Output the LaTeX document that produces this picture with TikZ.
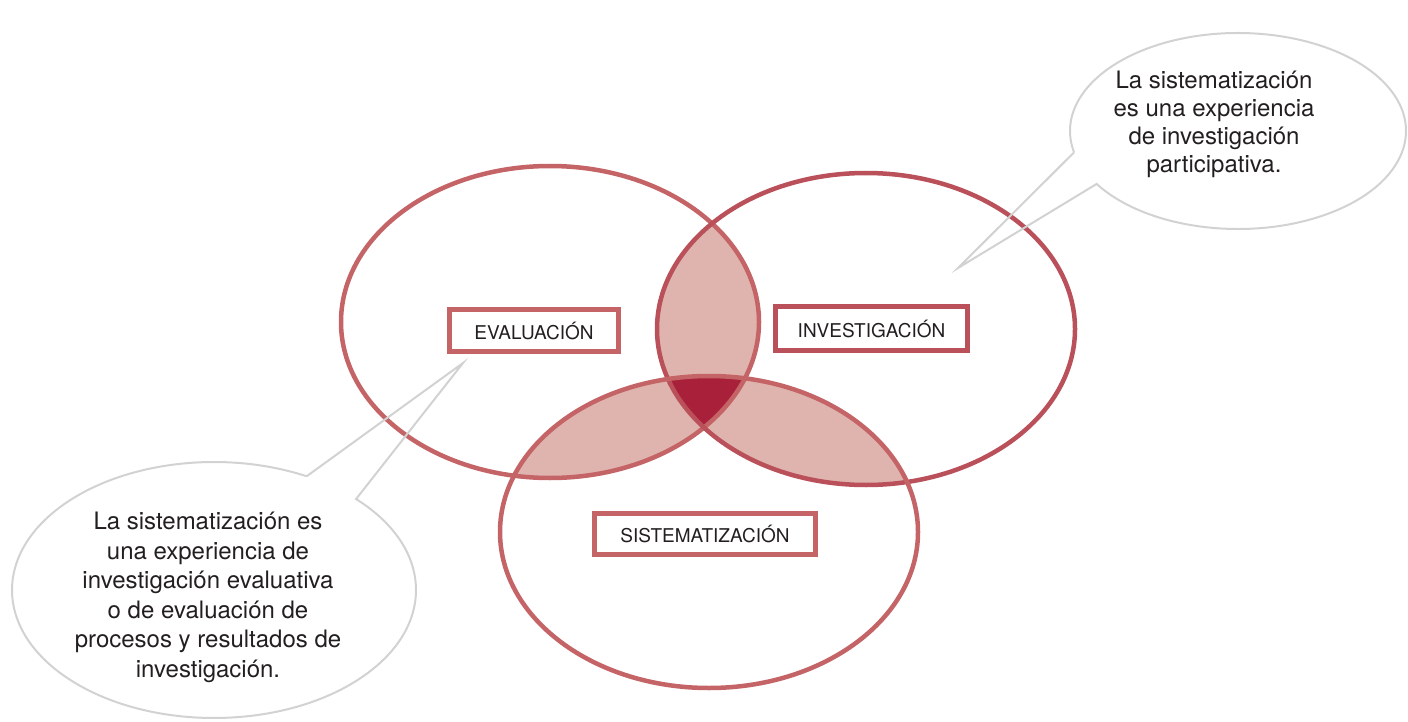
\documentclass[tikz,border=0pt]{standalone}
\usepackage{fontspec}
\setmainfont{TeX Gyre Heros}
\usetikzlibrary{calc}
\definecolor{evred}{HTML}{C46466}
\definecolor{invred}{HTML}{B9505A}
\definecolor{lens}{HTML}{E0B4AE}
\definecolor{core}{HTML}{A8203A}
\definecolor{bubgray}{HTML}{D2D2D2}
\definecolor{txt}{HTML}{231F20}
\begin{document}
\begin{tikzpicture}[x=1pt,y=-1pt,
  ring/.style={line width=4.5pt},
  labelbox/.style={draw=evred, line width=5pt, fill=white, inner sep=0pt, text=txt,
    font=\fontsize{19}{22}\selectfont},
  bubble/.style={draw=bubgray, line width=2pt, line join=miter},
  bubtext/.style={text=txt, align=center, inner sep=0pt}]
\useasboundingbox (0,0) rectangle (1408,722);
\def\rx{209}\def\ry{156}
\coordinate (E) at (550,322);
\coordinate (I) at (866,329);
\coordinate (S) at (709,532);
% pairwise overlaps
\begin{scope}
  \clip (E) ellipse [x radius=\rx, y radius=\ry];
  \fill[lens] (I) ellipse [x radius=\rx, y radius=\ry];
  \fill[lens] (S) ellipse [x radius=\rx, y radius=\ry];
\end{scope}
\begin{scope}
  \clip (I) ellipse [x radius=\rx, y radius=\ry];
  \fill[lens] (S) ellipse [x radius=\rx, y radius=\ry];
\end{scope}
% triple overlap
\begin{scope}
  \clip (E) ellipse [x radius=\rx, y radius=\ry];
  \clip (I) ellipse [x radius=\rx, y radius=\ry];
  \fill[core] (S) ellipse [x radius=\rx, y radius=\ry];
\end{scope}
% rings
\draw[ring, evred] (E) ellipse [x radius=\rx, y radius=\ry];
\draw[ring, invred] (I) ellipse [x radius=\rx, y radius=\ry];
\draw[ring, evred] (S) ellipse [x radius=\rx, y radius=\ry];
% labels
\node[labelbox, minimum width=169pt, minimum height=42pt] (ev) at (534,330.5) {EVALUACIÓN};
\node[labelbox, draw=invred, minimum width=192pt, minimum height=44pt] (inv) at (871.5,328.5) {INVESTIGACIÓN};
\node[labelbox, minimum width=221pt, minimum height=41pt] (sis) at (705,534) {SISTEMATIZACIÓN};
% left callout
\coordinate (LB) at (214,590);
\coordinate (LT) at (463,363);
\coordinate (L1) at ($(LB)+({202*cos(-62.7)},{128*sin(-62.7)})$);
\coordinate (L2) at ($(LB)+({202*cos(-45.3)},{128*sin(-45.3)})$);
\draw[bubble] (L1) -- (LT) -- (L2) arc [start angle=-45.3, end angle=297.3, x radius=202, y radius=128];
\node[bubtext, font=\fontsize{24}{29.5}\selectfont] (ltext) at (208,597.5)
  {La sistematización es\\una experiencia de\\investigación evaluativa\\o de evaluación de\\procesos y resultados de\\investigación.};
% right callout
\coordinate (RB) at (1238,131);
\coordinate (RT) at (958,268);
\coordinate (R1) at ($(RB)+({168*cos(167.4)},{98*sin(167.4)})$);
\coordinate (R2) at ($(RB)+({168*cos(147.3)},{98*sin(147.3)})$);
\draw[bubble] (R1) -- (RT) -- (R2) arc [start angle=147.3, end angle=-192.6, x radius=168, y radius=98];
\node[bubtext, font=\fontsize{24}{28}\selectfont] (rtext) at (1214,124)
  {La sistematización\\es una experiencia\\de investigación\\participativa.};
\end{tikzpicture}
\end{document}
